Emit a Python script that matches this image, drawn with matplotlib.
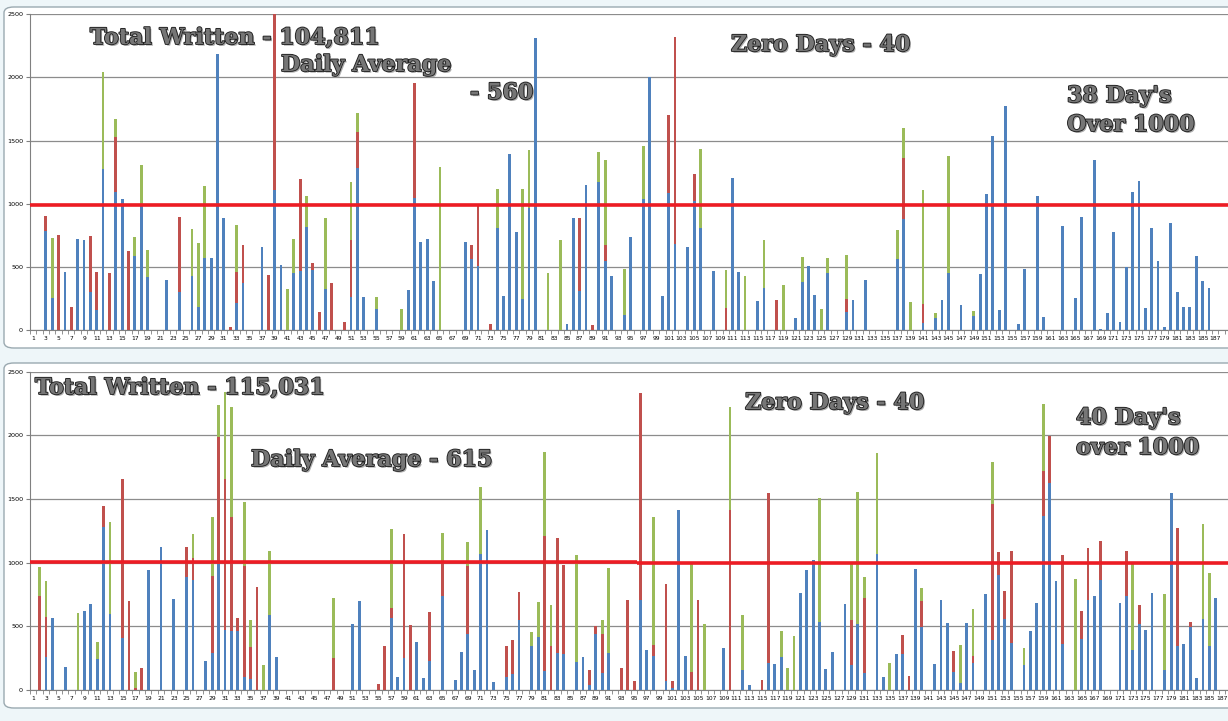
"""Daily word counts, two periods, stacked by session, with a 1000-word target line."""

import numpy as np
import matplotlib

matplotlib.use("Agg")
import matplotlib.pyplot as plt
import matplotlib.patheffects as pe
from matplotlib.patches import FancyBboxPatch


# day -> words (zero days left out)
TOP_BLUE = {
    3: 785, 4: 256, 6: 459, 8: 721, 9: 713, 10: 300, 11: 158, 12: 1275, 14: 1096, 15: 1038,
    17: 586, 18: 990, 19: 420, 22: 396, 24: 301, 26: 428, 27: 182, 28: 573, 29: 573, 30: 2186,
    31: 887, 33: 214, 34: 372, 37: 657, 39: 1109, 40: 515, 42: 451, 43: 467, 44: 816, 45: 475,
    47: 325, 51: 261, 52: 1283, 53: 261, 55: 166, 60: 317, 61: 1045, 62: 697, 63: 721, 64: 388,
    69: 697, 70: 562, 71: 507, 74: 808, 75: 269, 76: 1394, 77: 776, 78: 246, 79: 966, 80: 2313,
    85: 48, 86: 887, 87: 309, 88: 1148, 90: 1172, 91: 546, 92: 428, 94: 119, 95: 737, 97: 1038,
    98: 2001, 100: 269, 101: 1085, 102: 681, 104: 657, 105: 1022, 106: 808, 108: 467, 111: 1204,
    112: 459, 115: 230, 116: 333, 121: 95, 122: 380, 123: 507, 124: 277, 126: 451, 129: 143,
    130: 238, 132: 396, 137: 562, 138: 879, 141: 55, 143: 95, 144: 238, 145: 451, 147: 198,
    149: 111, 150: 443, 151: 1077, 152: 1536, 153: 158, 154: 1774, 156: 48, 157: 483, 159: 1061,
    160: 103, 163: 824, 165: 253, 166: 895, 168: 1346, 169: 8, 170: 135, 171: 776, 172: 63,
    173: 499, 174: 1093, 175: 1180, 176: 174, 177: 808, 178: 546, 179: 24, 180: 847, 181: 301,
    182: 182, 183: 182, 184: 586, 185: 388, 186: 333,
}
TOP_RED = {
    3: 120, 5: 752, 7: 182, 10: 445, 11: 301, 13: 451, 14: 433, 16: 626, 24: 594, 32: 24,
    33: 245, 34: 301, 38: 436, 39: 1450, 43: 729, 45: 56, 46: 143, 48: 372, 50: 63, 51: 452,
    52: 285, 61: 911, 70: 111, 71: 475, 73: 48, 87: 578, 89: 40, 91: 127, 101: 618, 102: 1640,
    105: 214, 110: 174, 118: 238, 129: 103, 138: 483, 141: 151,
}
TOP_GREEN = {
    4: 473, 12: 771, 14: 145, 17: 151, 18: 317, 19: 214, 26: 372, 27: 507, 28: 567, 33: 373,
    41: 325, 42: 270, 44: 245, 47: 562, 51: 459, 52: 151, 55: 95, 59: 166, 65: 1291, 74: 309,
    78: 871, 79: 460, 82: 451, 84: 713, 90: 238, 91: 673, 94: 364, 97: 419, 106: 626, 110: 301,
    113: 428, 116: 380, 119: 356, 122: 198, 125: 166, 126: 119, 129: 348, 137: 230, 138: 238,
    139: 222, 141: 903, 143: 40, 145: 927, 149: 39,
}

BOTTOM_BLUE = {
    3: 259, 4: 565, 6: 181, 9: 620, 10: 675, 11: 243, 12: 1280, 13: 597, 15: 408, 19: 942,
    21: 1123, 23: 715, 25: 888, 26: 864, 28: 228, 29: 291, 30: 990, 31: 471, 32: 463, 33: 463,
    34: 102, 35: 86, 38: 589, 39: 259, 51: 518, 52: 699, 57: 565, 58: 102, 59: 251, 61: 377,
    62: 94, 63: 228, 65: 738, 67: 79, 68: 298, 69: 440, 70: 157, 71: 1068, 72: 1257, 73: 63,
    75: 102, 76: 126, 77: 550, 79: 346, 80: 416, 81: 149, 83: 291, 84: 283, 86: 220, 87: 259,
    88: 39, 89: 440, 90: 134, 91: 291, 96: 707, 97: 314, 98: 267, 100: 71, 101: 16, 102: 1414,
    103: 267, 109: 330, 112: 157, 113: 39, 116: 212, 117: 204, 118: 259, 121: 762, 122: 942,
    123: 1021, 124: 534, 125: 165, 126: 298, 128: 675, 129: 196, 130: 518, 131: 134, 133: 1068,
    134: 102, 136: 283, 137: 283, 139: 950, 140: 495, 142: 204, 143: 707, 144: 526, 145: 141,
    146: 55, 147: 526, 148: 212, 150: 754, 151: 393, 152: 903, 153: 558, 154: 369, 156: 196,
    157: 463, 158: 683, 159: 1367, 160: 1626, 161: 856, 162: 361, 165: 401, 166: 707, 167: 738,
    168: 864, 171: 683, 172: 738, 173: 314, 174: 518, 175: 471, 176: 762, 178: 157, 179: 1547,
    180: 346, 181: 361, 182: 495, 183: 94, 184: 558, 185: 346, 186: 723,
}
BOTTOM_RED = {
    2: 738, 3: 314, 12: 165, 15: 1249, 16: 699, 17: 16, 18: 173, 25: 235, 26: 173, 29: 604,
    30: 997, 31: 1186, 32: 896, 33: 102, 34: 872, 35: 252, 36: 809, 48: 251, 55: 47, 56: 346,
    57: 79, 59: 974, 60: 511, 63: 385, 65: 267, 69: 534, 75: 244, 76: 267, 77: 220, 81: 1060,
    82: 346, 83: 903, 84: 699, 88: 118, 89: 63, 90: 306, 93: 173, 94: 707, 95: 71, 96: 1626,
    98: 86, 100: 762, 101: 55, 104: 141, 105: 707, 110: 1414, 115: 79, 116: 1335, 129: 354,
    131: 589, 137: 149, 138: 110, 140: 204, 145: 165, 148: 55, 151: 1068, 152: 181, 153: 220,
    154: 723, 159: 353, 160: 369, 162: 699, 165: 219, 166: 408, 168: 306, 172: 354, 174: 150,
    180: 926, 182: 39,
}
BOTTOM_GREEN = {
    2: 228, 3: 283, 8: 605, 11: 134, 13: 722, 17: 125, 26: 188, 29: 464, 30: 251, 31: 683,
    32: 864, 34: 503, 35: 212, 37: 196, 38: 503, 48: 472, 57: 620, 65: 228, 69: 188, 71: 526,
    79: 110, 80: 275, 81: 660, 82: 322, 86: 840, 90: 110, 91: 667, 98: 1006, 104: 849, 106: 518,
    110: 809, 112: 432, 118: 204, 119: 173, 120: 424, 124: 974, 129: 440, 130: 1037, 131: 165,
    133: 793, 135: 212, 140: 102, 146: 298, 148: 369, 151: 330, 156: 134, 159: 526, 164: 872,
    173: 676, 178: 597, 184: 746, 185: 573,
}

N_DAYS = 187
TOP_TARGET = 987
BOTTOM_TARGET = [1003, 994]      # the drawn target line steps down slightly
BOTTOM_TARGET_STEP = 95.4

TOP_LABELS = ["Total Written - 104,811", "Daily Average", "- 560", "Zero Days - 40", "38 Day's", "Over 1000"]
BOTTOM_LABELS = ["Total Written - 115,031", "Daily Average - 615", "Zero Days - 40", "40 Day's", "over 1000"]

COLORS = ["#4f81bd", "#c0504d", "#9bbb59"]
W, H = 1228, 721


def series(d):
    out = np.zeros(N_DAYS)
    for day, v in d.items():
        out[day - 1] = v
    return out


def fx(px):
    return px / W


def fy(py):
    return 1 - py / H


def wordart(fig, x, y, s, size=16):
    fig.text(fx(x), fy(y), s, ha="left", va="center", fontsize=size, family="DejaVu Serif",
             fontweight="bold", color="#767676", zorder=10,
             path_effects=[pe.withSimplePatchShadow(offset=(1.2, -1.2), shadow_rgbFace="#9a9a9a", alpha=0.8),
                           pe.withStroke(linewidth=1.3, foreground="#202020")])


def draw_panel(ax, blue, red, green, xmax):
    days = np.arange(1, N_DAYS + 1)
    b, r, g = series(blue), series(red), series(green)
    ax.bar(days, b, width=0.44, color=COLORS[0], zorder=3)
    ax.bar(days, r, width=0.44, bottom=b, color=COLORS[1], zorder=3)
    ax.bar(days, g, width=0.44, bottom=b + r, color=COLORS[2], zorder=3)
    ax.set_xlim(0.5, xmax)
    ax.set_ylim(0, 2500)
    ax.set_yticks(range(0, 2501, 500))
    ax.yaxis.grid(True, color="#8c8c8c", lw=0.9, zorder=0)
    ax.set_xticks(range(1, N_DAYS + 1, 2))
    ax.set_xticks(np.arange(0.5, xmax, 1), minor=True)
    ax.tick_params(axis="x", which="major", length=0, labelsize=4.3, pad=4)
    ax.tick_params(axis="x", which="minor", length=3, color="#808080", width=0.6)
    ax.tick_params(axis="y", length=3, color="#808080", labelsize=4.6, pad=2)
    for side in ("top", "right"):
        ax.spines[side].set_visible(False)
    for side in ("left", "bottom"):
        ax.spines[side].set_color("#808080")
    ax.set_facecolor("white")


def main():
    fig = plt.figure(figsize=(W / 100, H / 100), dpi=100, facecolor="#eef6f9")
    for y0, y1 in ((7, 348), (363, 708)):
        fig.patches.append(FancyBboxPatch((fx(4), fy(y1)), fx(1240), (y1 - y0) / H,
                                          boxstyle="round,pad=0,rounding_size=0.008",
                                          transform=fig.transFigure, facecolor="white",
                                          edgecolor="#9aa9b0", lw=1.0, zorder=-10))

    top = fig.add_axes([fx(30), fy(330), fx(1198), (330 - 14.3) / H])
    draw_panel(top, TOP_BLUE, TOP_RED, TOP_GREEN, 189.0)
    top.axhline(TOP_TARGET, color="#ed1c24", lw=2.6, zorder=4)

    bottom = fig.add_axes([fx(30), fy(690), fx(1198), (690 - 371.7) / H])
    draw_panel(bottom, BOTTOM_BLUE, BOTTOM_RED, BOTTOM_GREEN, 187.9)
    bottom.plot([0.5, BOTTOM_TARGET_STEP], [BOTTOM_TARGET[0]] * 2, color="#ed1c24", lw=2.6, zorder=4,
                solid_capstyle="butt")
    bottom.plot([BOTTOM_TARGET_STEP, 187.9], [BOTTOM_TARGET[1]] * 2, color="#ed1c24", lw=2.6, zorder=4,
                solid_capstyle="butt")

    top_pos = [(90, 38), (281, 65), (470, 93), (731, 45), (1067, 96), (1067, 125)]
    for (x, y), s in zip(top_pos, TOP_LABELS):
        wordart(fig, x, y, s)
    bottom_pos = [(35, 388), (251, 460), (745, 403), (1076, 418), (1076, 448)]
    for (x, y), s in zip(bottom_pos, BOTTOM_LABELS):
        wordart(fig, x, y, s)

    fig.savefig("out.png", dpi=100, facecolor=fig.get_facecolor())


if __name__ == "__main__":
    main()
